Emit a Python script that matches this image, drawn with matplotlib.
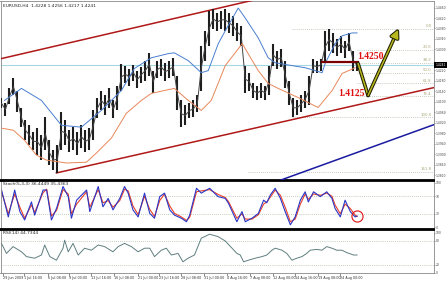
import numpy as np
import matplotlib
matplotlib.use("Agg")
import matplotlib.pyplot as plt
import matplotlib.patheffects as pe
from matplotlib.transforms import blended_transform_factory

# ---------------- data ----------------
bar_high = [1.4113, 1.4097, 1.4151, 1.4192, 1.4143, 1.4075, 1.4029, 1.4010, 1.3983, 1.3999,
            1.3972, 1.4041, 1.3953, 1.3915, 1.3934, 1.4059, 1.4029, 1.3991, 1.4003, 1.3983,
            1.4010, 1.3991, 1.3999, 1.4067, 1.4113, 1.4143, 1.4124, 1.4151, 1.4105, 1.4162,
            1.4246, 1.4238, 1.4227, 1.4242, 1.4219, 1.4234, 1.4257, 1.4287, 1.4219, 1.4257,
            1.4265, 1.4249, 1.4257, 1.4268, 1.4200, 1.4105, 1.4086, 1.4094, 1.4105, 1.4124,
            1.4314, 1.4371, 1.4447, 1.4455, 1.4439, 1.4447, 1.4455, 1.4439, 1.4428, 1.4401,
            1.4390, 1.4238, 1.4211, 1.4173, 1.4162, 1.4173, 1.4162, 1.4238, 1.4322, 1.4295,
            1.4303, 1.4257, 1.4181, 1.4113, 1.4105, 1.4124, 1.4143, 1.4200, 1.4265, 1.4257,
            1.4265, 1.4371, 1.4379, 1.4363, 1.4341, 1.4352, 1.4333, 1.4363, 1.4295, 1.4257]
bar_low = [1.4075, 1.4044, 1.4090, 1.4124, 1.4059, 1.4003, 1.3953, 1.3934, 1.3915, 1.3896,
           1.3877, 1.3915, 1.3858, 1.3839, 1.3828, 1.3915, 1.3934, 1.3907, 1.3915, 1.3896,
           1.3923, 1.3907, 1.3915, 1.3953, 1.4037, 1.4067, 1.4048, 1.4075, 1.4037, 1.4067,
           1.4143, 1.4173, 1.4162, 1.4181, 1.4151, 1.4173, 1.4181, 1.4200, 1.4135, 1.4189,
           1.4200, 1.4181, 1.4189, 1.4200, 1.4067, 1.4003, 1.4010, 1.4037, 1.4041, 1.4059,
           1.4143, 1.4257, 1.4314, 1.4379, 1.4371, 1.4379, 1.4371, 1.4363, 1.4352, 1.4333,
           1.4314, 1.4135, 1.4143, 1.4113, 1.4105, 1.4113, 1.4105, 1.4124, 1.4238, 1.4227,
           1.4234, 1.4151, 1.4086, 1.4041, 1.4048, 1.4059, 1.4075, 1.4086, 1.4211, 1.4211,
           1.4219, 1.4249, 1.4295, 1.4287, 1.4276, 1.4287, 1.4268, 1.4295, 1.4219, 1.4219]

ma_fast_t = [0.75, 5, 10, 15, 20, 25, 30, 33.25, 37.5, 41.75, 43.25, 46.75, 50, 51.75, 54.25,
             56, 59.25, 61, 64.25, 66.75, 68.5, 72.75, 76, 78.5, 80.25, 81, 83.5, 85.25, 87.75, 89]
ma_fast = [1.4105, 1.4151, 1.4105, 1.4010, 1.4003, 1.4067, 1.4143, 1.4227, 1.4268, 1.4284,
           1.4287, 1.4257, 1.4211, 1.4219, 1.4322, 1.4371, 1.4458, 1.4420, 1.4344, 1.4268,
           1.4249, 1.4238, 1.4230, 1.4219, 1.4211, 1.4246, 1.4322, 1.4352, 1.4363, 1.4363]

ma_slow_t = [0, 3, 5.75, 8.75, 11.25, 16.25, 21.25, 23.75, 27.5, 31.25, 35, 37.5, 43.25, 46.75,
             50, 52.5, 54.5, 56, 60.25, 64.25, 66.75, 69.25, 74.25, 79.25, 82.75, 85.25, 88.5]
ma_slow = [1.3999, 1.3991, 1.3953, 1.3896, 1.3877, 1.3866, 1.3869, 1.3904, 1.3961, 1.4056,
           1.4105, 1.4132, 1.4151, 1.4105, 1.4067, 1.4105, 1.4181, 1.4238, 1.4322, 1.4219,
           1.4170, 1.4151, 1.4116, 1.4078, 1.4143, 1.4208, 1.4230]

stoch_t = [0, 1.7, 3.3, 4.6, 5.8, 7.5, 8.3, 10.4, 11.3, 12.5, 13.8, 15.4, 16.7, 17.5, 18.8, 21.3,
           22.1, 24.2, 25.4, 26.7, 27.9, 29.6, 30.8, 31.7, 32.9, 34.2, 35.8, 37.1, 38.3, 39.6,
           40.8, 42.1, 43.3, 45, 46.3, 47.1, 48.8, 50, 52.1, 54.2, 56, 56.8, 58.9, 60.2, 61,
           62.7, 64.3, 65.6, 66.4, 67.3, 68.5, 69.8, 71, 72.3, 73.5, 74.8, 76, 76.8, 78.1, 79.8,
           81.4, 82.7, 83.5, 84.8, 86, 87.3, 88.5, 89]
stoch_k = [84, 23, 84, 35, 16, 57, 27, 84, 84, 16, 43, 92, 69, 20, 61, 84,
           35, 92, 46, 65, 39, 65, 92, 77, 39, 23, 77, 31, 20, 69,
           77, 39, 27, 20, 12, 27, 88, 77, 88, 69, 65, 54, 12, 35, 12,
           20, 31, 61, 55, 73, 88, 65, 35, 5, 23, 61, 80, 57, 80, 69,
           80, 65, 42, 23, 61, 35, 23, 25]
stoch_d = [80, 30, 75, 45, 20, 50, 33, 78, 86, 25, 38, 85, 75, 30, 52, 80,
           45, 85, 55, 60, 45, 60, 86, 82, 48, 28, 70, 40, 24, 60,
           75, 48, 31, 23, 15, 22, 80, 82, 85, 74, 67, 58, 20, 30, 18,
           18, 28, 52, 57, 68, 84, 72, 45, 12, 18, 52, 75, 63, 75, 72,
           77, 70, 50, 30, 52, 42, 27, 24]

rsi_t = [0, 1.25, 2.9, 5, 6.25, 8.3, 10, 10.8, 12.1, 13.75, 15.4, 15.8, 16.7, 17.9, 19.2, 20.8,
         22.5, 24.2, 25.8, 27.9, 29.2, 30.8, 32.5, 34.2, 35.8, 37.1, 38.3, 40, 41.25, 42.5, 44.2,
         45.4, 46.7, 48.3, 50, 52.1, 54.2, 56, 57.7, 58.9, 59.75, 60.6, 61.8, 63.5, 65.2, 66.4,
         67.7, 68.5, 70.2, 71.4, 72.7, 73.9, 75.2, 76.4, 77.25, 78.9, 80.2, 81.4, 82.7, 83.9,
         85.2, 86.4, 88.1, 89]
rsi = [74, 49, 66, 53, 41, 37, 45, 70, 41, 32, 62, 82, 53, 74, 45, 62,
       57, 70, 66, 53, 66, 74, 66, 53, 62, 62, 41, 57, 62, 45, 49,
       28, 37, 45, 87, 97, 91, 80, 62, 49, 45, 28, 32, 37, 41, 45,
       57, 62, 57, 49, 32, 37, 41, 49, 57, 59, 57, 66, 62, 57,
       57, 51, 45, 45]

date_labels = ["29 Jun 2009", "1 Jul 16:00", "6 Jul 08:00", "9 Jul 00:00", "13 Jul 16:00",
               "16 Jul 08:00", "21 Jul 00:00", "23 Jul 16:00", "28 Jul 08:00", "31 Jul 00:00",
               "4 Aug 16:00", "7 Aug 08:00", "12 Aug 00:00", "14 Aug 16:00", "19 Aug 08:00",
               "24 Aug 00:00"]
date_pos = [0.5, 5.75, 11.75, 17, 22.5, 28.25, 34.25, 39.5, 45, 50.75, 56.5, 62.25, 68,
            73.5, 79.25, 84.75]

price_ticks = [1.3820, 1.3860, 1.3900, 1.3940, 1.3980, 1.4020, 1.4060, 1.4100, 1.4140,
               1.4180, 1.4220, 1.4300, 1.4340, 1.4380, 1.4420, 1.4460]

fib_ratios = [0.0, 23.6, 38.2, 50.0, 61.8, 76.4, 100.0, 161.8]
fib_start = [72.75, 89, 89, 89, 89, 89, 72.75, 61.75]
fib_high, fib_low = 1.4379, 1.4041

last_price = 1.4241
level_hi, level_lo = 1.4250, 1.4125
level_line_t = [80.25, 89.25]
proj_t = [89.25, 91.75, 99.25]
proj_p = [1.4246, 1.4124, 1.4375]

upper_ch_t, upper_ch_p = [0, 70], [1.4265, 1.4513]
lower_ch_t, lower_ch_p = [13.75, 108.5], [1.3828, 1.4155]
blue_tr_t, blue_tr_p = [60, 108.5], [1.3746, 1.4014]

header = "EURUSD,H4  1.4228 1.4256 1.4217 1.4241"
stoch_title = "Stoch(5,3,3) 36.4449 35.4363"
rsi_title = "RSI(14) 44.7344"

# ---------------- figure ----------------
W, H = 448, 281
fig = plt.figure(figsize=(W / 100, H / 100), dpi=100)
fig.patch.set_facecolor("white")
L = 0.5 / W
AW = 433.5 / W
ax = fig.add_axes([L, 101 / H, AW, 179 / H])
axs = fig.add_axes([L, 52 / H, AW, 48 / H])
axr = fig.add_axes([L, 8 / H, AW, 43 / H])

XL = (-0.25, 108.25)
for a in (ax, axs, axr):
    a.set_xlim(*XL)
    a.set_facecolor("white")
    for s in a.spines.values():
        s.set_color("#888888")
        s.set_linewidth(0.6)
    a.yaxis.tick_right()
    a.tick_params(axis="y", labelsize=2.2, length=1.0, pad=0.3, width=0.4,
                  colors="#444444")
    a.tick_params(axis="x", bottom=False, labelbottom=False)

for a in (ax, axs):
    a.spines["bottom"].set_color("black")
    a.spines["bottom"].set_linewidth(1.3)
for a in (axs, axr):
    a.spines["top"].set_color("black")
    a.spines["top"].set_linewidth(1.3)

# ---------------- main panel ----------------
ax.set_ylim(1.3801, 1.4485)
t = np.arange(len(bar_high))
hi = np.array(bar_high)
lo = np.array(bar_low)
ax.axhline(last_price, color="#a6d8e4", lw=0.8, zorder=1)
for r, st in zip(fib_ratios, fib_start):
    p = fib_high - r / 100 * (fib_high - fib_low)
    ax.plot([st, XL[1]], [p, p], color="#b4bca8", lw=0.6, ls=(0, (1, 1.5)), zorder=1)
    ax.text(XL[1] - 0.6, p + 0.0002, f"{r:.1f}", ha="right", va="bottom",
            fontsize=2.8, color="#a8a878", zorder=2)

ax.plot(upper_ch_t, upper_ch_p, color="#b01818", lw=1.1, zorder=3)
ax.plot(lower_ch_t, lower_ch_p, color="#b01818", lw=1.1, zorder=3)
ax.plot(blue_tr_t, blue_tr_p, color="#1a1aa0", lw=1.1, zorder=3)

ax.vlines(t, lo, hi, color="#1e1e1e", lw=1.5, zorder=4)
ax.plot(t, (hi + lo) / 2, color="#444444", lw=0.7, zorder=4)
ax.plot(ma_slow_t, ma_slow, color="#e8875a", lw=0.7, zorder=5)
ax.plot(ma_fast_t, ma_fast, color="#4a7fd0", lw=0.7, zorder=5)

ax.plot(level_line_t, [level_hi, level_hi], color="#7a0000", lw=1.6, zorder=6)
stroke = [pe.withStroke(linewidth=2.6, foreground="#202000")]
ax.plot(proj_t[:2], proj_p[:2], color="#b8b820", lw=1.1, zorder=6,
        path_effects=stroke, solid_capstyle="round")
ax.annotate("", xy=(proj_t[2], proj_p[2]), xytext=(proj_t[1], proj_p[1]), zorder=6,
            arrowprops=dict(arrowstyle="-|>,head_length=0.5,head_width=0.25",
                            color="#b8b820", lw=1.1, shrinkA=0, shrinkB=0,
                            path_effects=stroke))
ax.text(89.0, level_hi + 0.0005, f"{level_hi:.4f}", color="#e01010", fontsize=7,
        fontweight="bold", family="Liberation Serif", ha="left", va="bottom", zorder=7)
ax.text(84.2, level_lo + 0.0006, f"{level_lo:.4f}", color="#e01010", fontsize=7,
        fontweight="bold", family="Liberation Serif", ha="left", va="center", zorder=7)

ax.set_yticks(price_ticks)
ax.set_yticklabels([f"{v:.4f}" for v in price_ticks])
tr = blended_transform_factory(ax.transAxes, ax.transData)
ax.text(1.003, last_price, f"{last_price:.4f}", transform=tr, ha="left", va="center",
        fontsize=2.2, color="white",
        bbox=dict(fc="black", ec="none", pad=0.8), clip_on=False, zorder=8)
ax.text(0.006, 0.985, header, transform=ax.transAxes, fontsize=3.2, va="top",
        ha="left", color="#222222")

# ---------------- stochastic ----------------
axs.set_ylim(-4.5, 104.5)
for lv in (70, 30):
    axs.axhline(lv, color="#b4bca8", lw=0.6, ls=(0, (1, 1.5)))
axs.plot(stoch_t, stoch_d, color="#e8402a", lw=0.8)
axs.plot(stoch_t, stoch_k, color="#2a36c8", lw=0.8)
axs.plot([stoch_t[-1]], [stoch_k[-1]], marker="o", ms=8, mfc="none", mec="#e01010",
         mew=0.8)
axs.set_yticks([0, 30, 70, 100])
axs.text(0.006, 0.97, stoch_title, transform=axs.transAxes, fontsize=3.2, va="top",
         ha="left", color="#222222")

# ---------------- RSI ----------------
axr.set_ylim(0, 107.5)
for lv in (80, 20):
    axr.axhline(lv, color="#b4bca8", lw=0.6, ls=(0, (1, 1.5)))
axr.plot(rsi_t, rsi, color="#5f7f80", lw=0.7)
axr.set_yticks([0, 20, 80, 100])
axr.text(0.006, 0.97, rsi_title, transform=axr.transAxes, fontsize=3.2, va="top",
         ha="left", color="#222222")
axr.set_xticks(date_pos)
axr.set_xticklabels(date_labels)
axr.tick_params(axis="x", bottom=True, labelbottom=True, labelsize=2.4, length=2,
                pad=0.5, width=0.4, colors="#333333")
for lab in axr.get_xticklabels():
    lab.set_horizontalalignment("left")

fig.savefig("out.png", dpi=100, facecolor="white")
